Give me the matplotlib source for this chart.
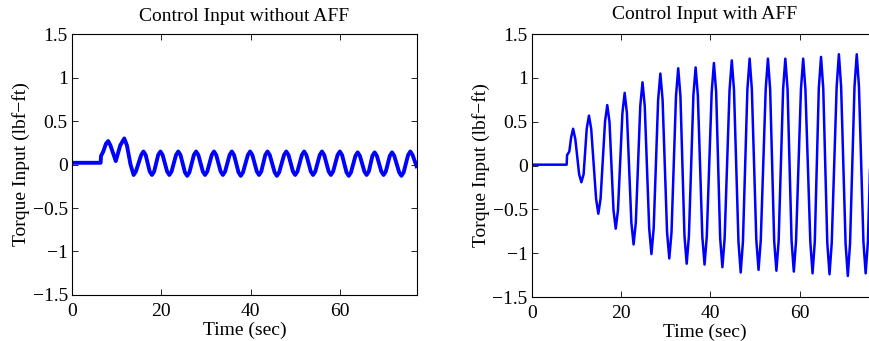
import numpy as np
from matplotlib import pyplot as plt

# values: peaks, troughs and their shoulders (sec, lbf-ft)
t_without = [0, 6.4, 6.5, 7.0, 7.6, 8.1, 8.6, 9.8, 10.8, 11.7, 12.3, 13.1, 13.8, 14.3,
             15.5, 16.0, 16.5, 17.4, 17.9, 18.4,
             19.3, 19.8, 20.3, 21.3, 21.8, 22.3,
             23.3, 23.8, 24.3, 25.3, 25.8, 26.3,
             27.3, 27.8, 28.3, 29.3, 29.8, 30.3,
             31.3, 31.8, 32.3, 33.3, 33.8, 34.3,
             35.3, 35.8, 36.3, 37.3, 37.8, 38.3,
             39.4, 39.9, 40.4, 41.4, 41.9, 42.4,
             43.3, 43.8, 44.3, 45.4, 45.9, 46.4,
             47.5, 48.0, 48.5, 49.5, 50.0, 50.5,
             51.5, 52.0, 52.5, 53.5, 54.0, 54.5,
             55.5, 56.0, 56.5, 57.5, 58.0, 58.5,
             59.5, 60.0, 60.5, 61.5, 62.0, 62.5,
             63.5, 64.0, 64.5, 65.5, 66.0, 66.5,
             67.3, 67.8, 68.3, 69.3, 69.8, 70.3,
             71.2, 71.7, 72.2, 73.3, 73.8, 74.3,
             75.3, 75.8, 76.3, 77.2]
u_without = [0.02, 0.02, 0.10, 0.15, 0.24, 0.27, 0.22, 0.04, 0.22, 0.30, 0.22, 0.0, -0.12, -0.08,
             0.11, 0.15, 0.11, -0.08, -0.12, -0.08,
             0.11, 0.15, 0.11, -0.08, -0.12, -0.08,
             0.11, 0.15, 0.11, -0.09, -0.13, -0.09,
             0.11, 0.15, 0.11, -0.08, -0.12, -0.08,
             0.11, 0.15, 0.11, -0.08, -0.12, -0.08,
             0.11, 0.15, 0.11, -0.09, -0.13, -0.09,
             0.11, 0.15, 0.11, -0.08, -0.12, -0.08,
             0.11, 0.15, 0.11, -0.09, -0.13, -0.09,
             0.11, 0.15, 0.11, -0.08, -0.12, -0.08,
             0.11, 0.15, 0.11, -0.08, -0.12, -0.08,
             0.11, 0.15, 0.11, -0.08, -0.12, -0.08,
             0.11, 0.15, 0.11, -0.09, -0.13, -0.09,
             0.10, 0.14, 0.10, -0.08, -0.12, -0.08,
             0.10, 0.14, 0.10, -0.08, -0.12, -0.08,
             0.10, 0.14, 0.10, -0.09, -0.13, -0.09,
             0.11, 0.15, 0.11, -0.02]

t_with = [0, 7.8, 7.9, 8.4, 8.8, 9.25, 9.75,
          10.6, 11.1, 11.6, 12.3, 12.8, 13.3,
          14.4, 14.9, 15.4, 16.4, 16.9, 17.4,
          18.3, 18.8, 19.3, 20.3, 20.8, 21.3,
          22.3, 22.8, 23.3, 24.3, 24.8, 25.3,
          26.3, 26.8, 27.3, 28.3, 28.8, 29.3,
          30.3, 30.8, 31.3, 32.3, 32.8, 33.3,
          34.2, 34.7, 35.2, 36.2, 36.7, 37.2,
          38.2, 38.7, 39.2, 40.3, 40.8, 41.3,
          42.2, 42.7, 43.2, 44.3, 44.8, 45.3,
          46.3, 46.8, 47.3, 48.3, 48.8, 49.3,
          50.3, 50.8, 51.3, 52.4, 52.9, 53.4,
          54.3, 54.8, 55.3, 56.3, 56.8, 57.3,
          58.2, 58.7, 59.2, 60.3, 60.8, 61.3,
          62.4, 62.9, 63.4, 64.3, 64.8, 65.3,
          66.2, 66.7, 67.2, 68.3, 68.8, 69.3,
          70.3, 70.8, 71.3, 72.3, 72.8, 73.3,
          74.3, 74.8, 75.3, 75.8, 76.3, 76.8, 77.3]
u_with = [0.01, 0.01, 0.12, 0.16, 0.32, 0.42, 0.30,
          -0.10, -0.19, -0.10, 0.42, 0.57, 0.42,
          -0.38, -0.55, -0.38, 0.50, 0.69, 0.50,
          -0.51, -0.72, -0.51, 0.60, 0.83, 0.60,
          -0.65, -0.90, -0.65, 0.68, 0.95, 0.68,
          -0.72, -1.01, -0.72, 0.75, 1.05, 0.75,
          -0.76, -1.06, -0.76, 0.79, 1.11, 0.79,
          -0.80, -1.12, -0.80, 0.80, 1.12, 0.80,
          -0.81, -1.13, -0.81, 0.84, 1.17, 0.84,
          -0.83, -1.16, -0.83, 0.86, 1.20, 0.86,
          -0.87, -1.22, -0.87, 0.87, 1.22, 0.87,
          -0.85, -1.19, -0.85, 0.87, 1.22, 0.87,
          -0.86, -1.20, -0.86, 0.87, 1.22, 0.87,
          -0.86, -1.21, -0.86, 0.87, 1.22, 0.87,
          -0.87, -1.23, -0.87, 0.88, 1.24, 0.88,
          -0.88, -1.24, -0.88, 0.90, 1.27, 0.90,
          -0.89, -1.26, -0.89, 0.90, 1.27, 0.90,
          -0.87, -1.23, -0.87, 0.0, 0.87, 1.24, 0.87]

xticks = [0, 20, 40, 60]
yticks = [-1.5, -1, -0.5, 0, 0.5, 1, 1.5]
ytick_labels = ['\u22121.5', '\u22121', '\u22120.5', '0', '0.5', '1', '1.5']

plt.rcParams['font.family'] = ['Liberation Serif', 'DejaVu Serif']
plt.rcParams['font.size'] = 14


def setup(ax, title, title_pad):
    ax.set_xlim(0, 77.3)
    ax.set_ylim(-1.5, 1.5)
    ax.set_xticks(xticks)
    ax.set_xticklabels([str(x) for x in xticks])
    ax.set_yticks(yticks)
    ax.set_yticklabels(ytick_labels)
    ax.tick_params(direction='in', top=True, right=True, length=4, width=0.6,
                   labelsize=14)
    ax.tick_params(axis='x', pad=6)
    ax.tick_params(axis='y', pad=3)
    for s in ax.spines.values():
        s.set_linewidth(0.8)
    ax.set_title(title, fontsize=14, pad=title_pad)
    ax.set_xlabel('Time (sec)', fontsize=14, labelpad=1)
    ax.set_ylabel('Torque Input (lbf\u2212ft)', fontsize=14, labelpad=2)


fig = plt.figure(figsize=(8.69, 3.41), dpi=100)

ax1 = fig.add_axes([0.0829, 0.135, 0.397, 0.765])
ax1.plot(t_without, u_without, color='blue', lw=2.8, solid_joinstyle='round')
setup(ax1, 'Control Input without AFF', 9.5)

ax2 = fig.add_axes([0.612, 0.129, 0.397, 0.771])
ax2.plot(t_with, u_with, color='blue', lw=1.8, solid_joinstyle='round')
setup(ax2, 'Control Input with AFF', 11)

fig.savefig('out.png', dpi=100)
